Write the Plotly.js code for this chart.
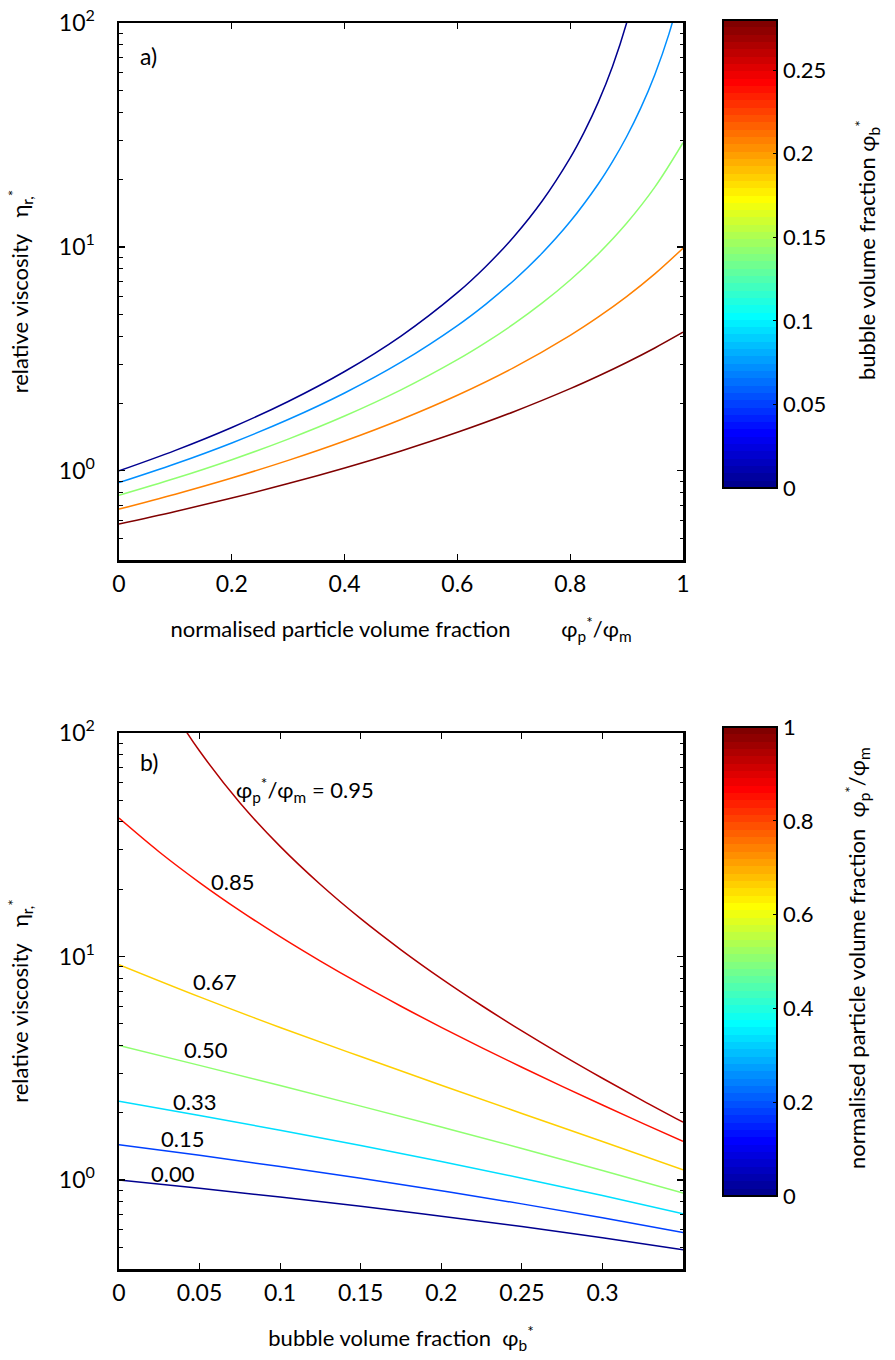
<!DOCTYPE html>
<html><head><meta charset="utf-8">
<script src="https://cdn.plot.ly/plotly-3.0.1.min.js"></script>
<style>html,body{margin:0;padding:0;background:#fff}</style>
</head><body><div id="chart" style="width:895px;height:1360px"></div>
<script>
// ---------- Panel a data: eta vs normalised particle fraction, one curve per bubble fraction ----------
const bubbleFracA = [0, 0.07, 0.14, 0.21, 0.28];
const phiPa_0 = [0, 0.1, 0.2, 0.3, 0.4, 0.5, 0.6, 0.65, 0.7, 0.75, 0.8, 0.825, 0.85, 0.875, 0.9, 0.925];
const etaA_0  = [1, 1.2346, 1.5625, 2.0408, 2.7778, 4, 6.25, 8.1633, 11.111, 16, 25, 32.653, 44.444, 64, 100, 177.78];
const phiPa_1 = [0, 0.1, 0.2, 0.3, 0.4, 0.5, 0.6, 0.65, 0.7, 0.75, 0.8, 0.85, 0.875, 0.9, 0.925, 0.95, 0.975, 1];
const etaA_1  = [0.8861, 1.0756, 1.3330, 1.6952, 2.2280, 3.0579, 4.4555, 5.544, 7.0861, 9.374, 12.980, 19.150, 24.032, 31.047, 41.656, 58.788, 89.18, 151.0];
const phiPa_2 = [0, 0.1, 0.2, 0.3, 0.4, 0.5, 0.6, 0.65, 0.7, 0.75, 0.8, 0.85, 0.9, 0.95, 1];
const etaA_2  = [0.7777, 0.9262, 1.1218, 1.3864, 1.7571, 2.2991, 3.1369, 3.7388, 4.5322, 5.6078, 7.1172, 9.3294, 12.760, 18.499, 29.20];
const phiPa   = [0, 0.1, 0.2, 0.3, 0.4, 0.5, 0.6, 0.7, 0.8, 0.85, 0.9, 0.95, 1];
const etaA_3  = [0.6751, 0.7871, 0.9293, 1.1141, 1.3598, 1.6969, 2.1768, 2.8932, 4.0317, 4.8715, 6.0030, 7.580, 9.872];
const etaA_4  = [0.5784, 0.6584, 0.7562, 0.8775, 1.0306, 1.2275, 1.4867, 1.8377, 2.3293, 2.6526, 3.0482, 3.539, 4.160];

// ---------- Panel b data: eta vs bubble fraction, one curve per normalised particle fraction ----------
const particleFracB = [0, 0.167, 0.333, 0.5, 0.667, 0.85, 0.95];
const curveLabelsB = ['0.00', '0.15', '0.33', '0.50', '0.67', '0.85', '0.95'];
const phiB = [0, 0.05, 0.1, 0.15, 0.2, 0.25, 0.3, 0.35];
const etaB_000 = [1, 0.9181, 0.8389, 0.7627, 0.6894, 0.6191, 0.5519, 0.4877];
const etaB_015 = [1.44, 1.2901, 1.1494, 1.0180, 0.8957, 0.7823, 0.6778, 0.5818];
const etaB_033 = [2.25, 1.9443, 1.6704, 1.4266, 1.2105, 1.0198, 0.8524, 0.7059];
const etaB_050 = [4, 3.2592, 2.6466, 2.1418, 1.7260, 1.3843, 1.1041, 0.8746];
const etaB_067 = [9.2, 6.6, 4.8168, 3.5682, 2.6575, 1.9860, 1.4864, 1.1118];
const phiB_fine = [0, 0.025, 0.05, 0.075, 0.1, 0.125, 0.15, 0.175, 0.2, 0.225, 0.25, 0.275, 0.3, 0.325, 0.35];
const etaB_085 = [41.62, 29.36, 21.43, 16.05, 12.27, 9.539, 7.518, 5.993, 4.823, 3.912, 3.195, 2.624, 2.166, 1.794, 1.490];
const phiB_095 = [0, 0.025, 0.0375, 0.05, 0.075, 0.1, 0.125, 0.15, 0.175, 0.2, 0.225, 0.25, 0.275, 0.3, 0.325, 0.35];
const etaB_095 = [400, 161.4, 113.3, 83.02, 48.75, 31.10, 21.00, 14.77, 10.72, 7.968, 6.038, 4.648, 3.623, 2.854, 2.268, 1.815];

// ---------- tick labels ----------
const yTickVals = [1, 10, 100];
const yTickText = ['10<sup>0</sup>', '10<sup>1</sup>', '10<sup>2</sup>'];
const xTicksA = [0, 0.2, 0.4, 0.6, 0.8, 1];
const xTicksAText = ['0', '0.2', '0.4', '0.6', '0.8', '1'];
const xTicksB = [0, 0.05, 0.1, 0.15, 0.2, 0.25, 0.3];
const xTicksBText = ['0', '0.05', '0.1', '0.15', '0.2', '0.25', '0.3'];
const cbTicksA = [0, 0.05, 0.1, 0.15, 0.2, 0.25];
const cbTicksAText = ['0', '0.05', '0.1', '0.15', '0.2', '0.25'];
const cbTicksB = [0, 0.2, 0.4, 0.6, 0.8, 1];
const cbTicksBText = ['0', '0.2', '0.4', '0.6', '0.8', '1'];

// ---------- MATLAB jet(64) colormap ----------
function jetU(k){ if(k>=1&&k<=16) return k/16; if(k>=17&&k<=31) return 1; if(k>=32&&k<=47) return (48-k)/16; return 0; }
function jet64(i){ const j=i+1; const r=jetU(j-24), g=jetU(j-8), b=jetU(j+8);
  return 'rgb('+Math.round(r*255)+','+Math.round(g*255)+','+Math.round(b*255)+')'; }
const jetScale = [];
for(let i=0;i<64;i++){ const c=jet64(i); jetScale.push([i/64,c]); jetScale.push([(i+1)/64,c]); }
function jetColor(v, vmin, vmax){ let p=(v-vmin)/(vmax-vmin); p=Math.max(0,Math.min(1,p)); return jet64(Math.round(p*63)); }

const FONT = 'Lato, "Open Sans", sans-serif';
const FS = 22;
const W = 895, H = 1360;
const px = x => x / W, py = y => 1 - y / H;
const SP = '&nbsp;';

const traces = [];
const seriesA = [[phiPa_0, etaA_0], [phiPa_1, etaA_1], [phiPa_2, etaA_2], [phiPa, etaA_3], [phiPa, etaA_4]];
seriesA.forEach((s, k) => traces.push({
  x: s[0], y: s[1], xaxis: 'x', yaxis: 'y', mode: 'lines', type: 'scatter',
  line: {color: jetColor(bubbleFracA[k], 0, 0.28), width: 1.5, shape: 'spline', smoothing: 1},
  hoverinfo: 'skip', showlegend: false
}));
const seriesB = [[phiB, etaB_000], [phiB, etaB_015], [phiB, etaB_033], [phiB, etaB_050], [phiB, etaB_067], [phiB_fine, etaB_085], [phiB_095, etaB_095]];
seriesB.forEach((s, k) => traces.push({
  x: s[0], y: s[1], xaxis: 'x2', yaxis: 'y2', mode: 'lines', type: 'scatter',
  line: {color: jetColor(particleFracB[k], 0, 1), width: 1.5, shape: 'spline', smoothing: 1},
  hoverinfo: 'skip', showlegend: false
}));

function cbar(yc, lenPx, tv, tt){
  return {x: px(723), xanchor: 'left', y: py(yc), yanchor: 'middle', len: lenPx, lenmode: 'pixels',
    thickness: 54, thicknessmode: 'pixels', xpad: 0, ypad: 0, outlinewidth: 2, outlinecolor: 'black',
    ticks: 'inside', ticklen: 5, tickwidth: 1.2, tickcolor: 'black', tickmode: 'array', tickvals: tv, ticktext: tt,
    tickfont: {family: FONT, size: FS, color: 'black'}, title: {text: ''}};
}
traces.push({x: [-5], y: [1], xaxis: 'x', yaxis: 'y', mode: 'markers', type: 'scatter', hoverinfo: 'skip', showlegend: false,
  marker: {color: [0], cmin: 0, cmax: 0.28, colorscale: jetScale, showscale: true, opacity: 0,
    colorbar: cbar(254, 468, cbTicksA, cbTicksAText)}});
traces.push({x: [-5], y: [1], xaxis: 'x2', yaxis: 'y2', mode: 'markers', type: 'scatter', hoverinfo: 'skip', showlegend: false,
  marker: {color: [0], cmin: 0, cmax: 1, colorscale: jetScale, showscale: true, opacity: 0,
    colorbar: cbar(961.5, 469, cbTicksB, cbTicksBText)}});

const minorVals = [];
[0.1, 1, 10].forEach(d => { for(let m=2;m<=9;m++) minorVals.push(m*d); });

function xAx(domain, range, tv, tt, title){
  return {domain: domain, range: range, showline: true, linecolor: 'black', linewidth: 2.5, mirror: 'ticks',
    ticks: 'inside', ticklen: 6, tickwidth: 1.2, tickcolor: 'black', showgrid: false, zeroline: false,
    tickmode: 'array', tickvals: tv, ticktext: tt, ticklabelstandoff: 2,
    tickfont: {family: FONT, size: 23, color: 'black'},
    title: {text: title, standoff: 26, font: {family: FONT, size: FS, color: 'black'}}};
}
function yAx(domain, anchor){
  return {domain: domain, type: 'log', range: [Math.log10(0.4), 2], anchor: anchor, showline: true, linecolor: 'black', linewidth: 2.5,
    mirror: 'ticks', ticks: 'inside', ticklen: 6, tickwidth: 1.2, tickcolor: 'black', showgrid: false, zeroline: false,
    tickmode: 'array', tickvals: yTickVals, ticktext: yTickText, ticklabelstandoff: 17,
    minor: {ticks: 'inside', ticklen: 3.5, tickwidth: 1, tickcolor: 'black', tickmode: 'array', tickvals: minorVals, showgrid: false},
    tickfont: {family: FONT, size: 23, color: 'black'},
    title: {text: 'relative viscosity' + SP + SP + SP + 'η<sub>r,</sub><sup>*</sup>', standoff: 24, font: {family: FONT, size: FS, color: 'black'}}};
}

const ann = (x, y, t, extra) => Object.assign({xref: 'paper', yref: 'paper', x: px(x), y: py(y), text: t, showarrow: false,
  xanchor: 'center', yanchor: 'middle', font: {family: FONT, size: FS, color: 'black'}}, extra || {});

const layout = {
  width: W, height: H, margin: {l: 0, r: 0, t: 0, b: 0}, paper_bgcolor: 'white', plot_bgcolor: 'white',
  showlegend: false, font: {family: FONT, size: FS, color: 'black'},
  xaxis: Object.assign(xAx([px(119), px(683)], [0, 1], xTicksA, xTicksAText,
    'normalised particle volume fraction' + SP.repeat(9) + 'φ<sub>p</sub><sup>*</sup>/φ<sub>m</sub>'), {anchor: 'y'}),
  yaxis: yAx([py(560), py(23)], 'x'),
  xaxis2: Object.assign(xAx([px(119), px(683)], [0, 0.35], xTicksB, xTicksBText,
    'bubble volume fraction' + SP + SP + 'φ<sub>b</sub><sup>*</sup>'), {anchor: 'y2'}),
  yaxis2: yAx([py(1269), py(733)], 'x2'),
  annotations: [
    ann(148, 56, 'a)', {font: {family: FONT, size: 23, color: 'black'}}),
    ann(149, 762, 'b)', {font: {family: FONT, size: 23, color: 'black'}}),
    ann(305, 790, 'φ<sub>p</sub><sup>*</sup>/φ<sub>m</sub> = ' + curveLabelsB[6]),
    ann(232, 881, curveLabelsB[5]),
    ann(214, 981, curveLabelsB[4]),
    ann(206, 1049, curveLabelsB[3]),
    ann(194, 1101, curveLabelsB[2]),
    ann(182, 1138, curveLabelsB[1]),
    ann(173, 1173, curveLabelsB[0]),
    ann(867, 250, 'bubble volume fraction' + SP + 'φ<sub>b</sub><sup>*</sup>', {textangle: -90}),
    ann(857, 958, 'normalised particle volume fraction' + SP + SP + 'φ<sub>p</sub><sup>*</sup>/φ<sub>m</sub>', {textangle: -90})
  ]
};
Plotly.newPlot('chart', traces, layout, {staticPlot: true, displayModeBar: false});
</script></body></html>
